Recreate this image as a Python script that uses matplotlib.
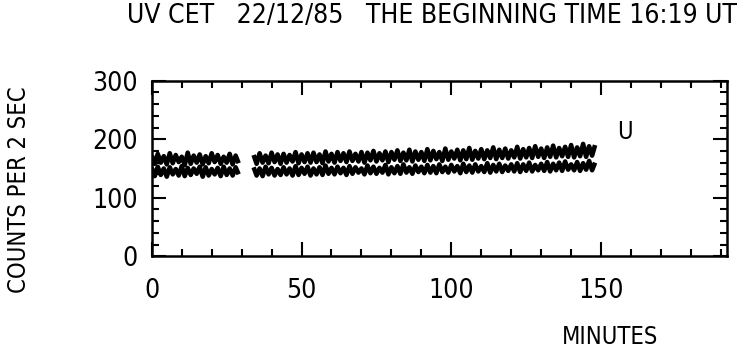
import matplotlib.pyplot as plt
import numpy as np
from matplotlib.ticker import MultipleLocator

plt.rcParams.update({
    "font.family": ["Liberation Sans Narrow", "DejaVu Sans"],
    "font.stretch": "condensed",
})

# minutes after 16:19 UT, two observing runs with a gap
minutes_a = np.arange(0, 30)
minutes_b = np.arange(34, 149)

# upper trace (counts per 2 s)
upper_a = [172, 158, 175, 160, 171, 157, 176, 159, 173, 161,
           170, 156, 177, 158, 172, 160, 174, 157, 171, 159,
           176, 161, 173, 158, 170, 160, 175, 157, 172, 159]
upper_b = [173, 158, 176, 160, 172, 159, 177, 161, 174, 158,
           175, 160, 173, 162, 178, 159, 174, 161, 176, 160,
           177, 161, 174, 159, 179, 162, 175, 160, 178, 163,
           176, 161, 179, 163, 175, 162, 178, 160, 177, 164,
           180, 162, 176, 164, 179, 161, 178, 165, 181, 163,
           177, 164, 182, 162, 179, 165, 178, 163, 183, 164,
           180, 166, 178, 163, 184, 165, 179, 167, 182, 164,
           181, 166, 185, 165, 180, 167, 183, 166, 181, 168,
           186, 166, 182, 168, 184, 167, 181, 169, 187, 167,
           183, 169, 185, 168, 188, 170, 184, 168, 186, 170,
           189, 169, 185, 171, 187, 170, 190, 169, 186, 171,
           192, 170, 188, 172, 190]

# lower trace
lower_a = [151, 137, 153, 139, 150, 136, 152, 140, 149, 138,
           154, 137, 151, 139, 150, 141, 153, 136, 152, 138,
           149, 140, 151, 137, 153, 139, 150, 138, 152, 140]
lower_b = [152, 138, 150, 137, 153, 140, 151, 138, 149, 139,
           152, 140, 150, 138, 154, 139, 151, 141, 153, 138,
           150, 140, 152, 139, 155, 141, 151, 140, 153, 142,
           151, 139, 154, 141, 152, 143, 150, 140, 155, 142,
           153, 141, 151, 143, 156, 140, 152, 142, 154, 141,
           157, 143, 152, 141, 155, 144, 153, 142, 156, 143,
           154, 142, 157, 144, 153, 143, 156, 145, 154, 142,
           158, 144, 155, 143, 157, 145, 154, 144, 159, 143,
           156, 145, 158, 144, 155, 146, 157, 145, 159, 144,
           157, 146, 160, 145, 156, 147, 158, 146, 161, 145,
           158, 147, 160, 146, 162, 148, 157, 147, 161, 146,
           159, 148, 163, 147, 160]

fig = plt.figure(figsize=(7.44, 3.51), dpi=100)
ax = fig.add_axes([0.204, 0.27, 0.773, 0.50])

for x, y in [(minutes_a, upper_a), (minutes_b, upper_b),
             (minutes_a, lower_a), (minutes_b, lower_b)]:
    ax.plot(x, y, color="black", linewidth=3.3,
            solid_joinstyle="round", solid_capstyle="butt")

ax.set_xlim(0, 192)
ax.set_ylim(0, 300)
ax.xaxis.set_major_locator(MultipleLocator(50))
ax.xaxis.set_minor_locator(MultipleLocator(10))
ax.yaxis.set_major_locator(MultipleLocator(100))
ax.yaxis.set_minor_locator(MultipleLocator(20))
ax.tick_params(which="both", direction="in", top=True, right=True, width=1.5)
ax.tick_params(which="major", length=10)
ax.tick_params(which="minor", length=5)
ax.tick_params(axis="x", labelsize=19, pad=16)
ax.tick_params(axis="y", labelsize=19, pad=10)
for s in ax.spines.values():
    s.set_linewidth(1.8)

ax.text(158, 212, "U", fontsize=17, ha="center", va="center")
fig.text(0.58, 0.955, "UV CET   22/12/85   THE BEGINNING TIME 16:19 UT",
         fontsize=19, ha="center", va="center")
fig.text(0.82, 0.04, "MINUTES", fontsize=17, ha="center", va="center")
fig.text(0.025, 0.46, "COUNTS PER 2 SEC", fontsize=17, rotation=90,
         ha="center", va="center")

fig.savefig("out.png", dpi=100)
